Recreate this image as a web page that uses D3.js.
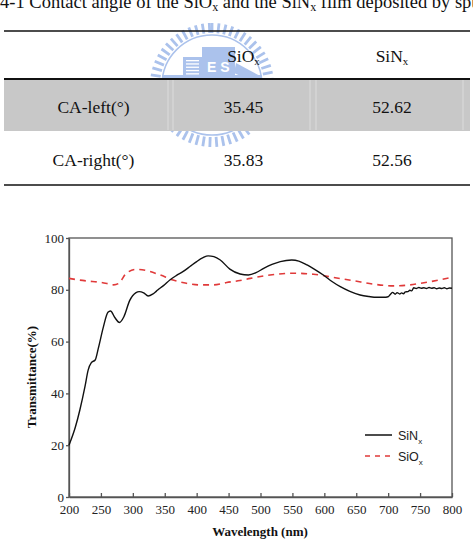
<!DOCTYPE html>
<html>
<head>
<meta charset="utf-8">
<script src="https://cdn.jsdelivr.net/npm/d3@7"></script>
<style>
  html, body { margin: 0; padding: 0; background: #fff; }
  svg { display: block; }
  .serif { font-family: "Liberation Serif", "Times New Roman", serif; }
  .sans { font-family: "Liberation Sans", Arial, sans-serif; }
</style>
</head>
<body>
<div id="chart"></div>
<script>
// table contents
const rowLabels = ["CA-left(°)", "CA-right(°)"];
const colLabels = [["SiO", "x"], ["SiN", "x"]];
const sioxAngles = [35.45, 35.83];
const sinxAngles = [52.62, 52.56];

// transmittance spectra
const sinxWl = [200, 210, 217, 225, 230, 235, 241, 246, 254, 261, 265, 272, 279, 286, 295, 305, 310, 317, 324, 331,
    337, 343, 348, 358, 368, 379, 390, 400, 410, 418, 427, 437, 452, 468, 481, 493, 505, 518, 531, 549,
    560, 573, 586, 599, 612, 625, 640, 656, 670, 682, 693, 700, 704, 707, 711, 714, 718, 721, 724, 727,
    731, 734, 737, 740, 744, 748, 752, 756, 760, 764, 768, 772, 776, 780, 784, 788, 792, 796, 800];
const sinxT = [20, 27, 33.6, 42.6, 49, 51.9, 52.9, 57.5, 65.8, 71.3, 71.8, 69.2, 67.4, 69.6, 75.8, 78.9, 79.3, 78.8, 77.6, 78.3,
    79.5, 80.7, 81.6, 83.8, 85.5, 87.1, 89.1, 90.9, 92.4, 93.1, 92.8, 91.5, 88, 86.1, 85.7, 86.6, 88.3, 89.8, 90.9, 91.5,
    91.1, 89.6, 87.7, 85.6, 83.2, 81.2, 79.4, 78, 77.4, 77.1, 77.1, 77.3, 78.4, 79, 78.3, 78.9, 78.4, 78.8, 78.5, 79.2,
    79.3, 79.8, 79.6, 80.8, 80.5, 80.9, 80.6, 80.8, 80.5, 80.9, 80.6, 80.8, 80.4, 80.7, 80.5, 80.8, 80.4, 80.7, 80.6];
const sioxWl = [200, 215, 228, 249, 262, 270, 278, 290, 306, 322, 343, 363, 384, 405, 426, 447, 468, 484, 515, 549,
    583, 614, 646, 677, 708, 734, 765, 800];
const sioxT = [84.4, 83.8, 83.4, 82.9, 82.3, 81.9, 82.5, 86.4, 87.9, 87.4, 85.7, 83.8, 82.5, 81.9, 81.9, 82.8, 83.6, 84.4, 85.7, 86.4,
    86.0, 84.8, 83.5, 82.2, 81.5, 81.9, 83.1, 84.8];
const xTicks = d3.range(200, 801, 50);
const yTicks = d3.range(0, 101, 20);

const W = 473, H = 547;
const svg = d3.select("#chart").append("svg").attr("width", W).attr("height", H);

// caption (cut at the edges like the scan)
const cap = svg.append("text").attr("class", "serif").attr("x", 0).attr("y", 7.5)
    .attr("font-size", 18.5).attr("fill", "#111");
cap.append("tspan").text("4-1 Contact angle of the SiO");
cap.append("tspan").attr("font-size", 12).attr("dy", 3).text("x");
cap.append("tspan").attr("dy", -3).text(" and the SiN");
cap.append("tspan").attr("font-size", 12).attr("dy", 3).text("x");
cap.append("tspan").attr("dy", -3).text(" film deposited by sputtering");

// watermark logo
const logo = svg.append("g").attr("transform", "translate(212,85)").attr("fill", "#abc2ec");
d3.range(0, 360, 6.5).forEach(a => {
    logo.append("rect").attr("x", -1.4).attr("y", -62).attr("width", 2.8).attr("height", 10)
        .attr("transform", `rotate(${a})`);
});
logo.append("circle").attr("r", 50).attr("fill", "none").attr("stroke", "#abc2ec").attr("stroke-width", 1.5);
logo.append("rect").attr("x", -29).attr("y", -28).attr("width", 19).attr("height", 18);
d3.range(5).forEach(i => {
    logo.append("rect").attr("x", -26).attr("y", -25 + i * 3.3).attr("width", 13).attr("height", 1.3).attr("fill", "#fff");
});
logo.append("rect").attr("x", -10).attr("y", -38).attr("width", 33).attr("height", 28);
logo.append("text").attr("class", "sans").attr("x", -5).attr("y", -13).attr("font-size", 14)
    .attr("fill", "#fff").attr("font-weight", "bold").text("E S");
logo.append("path").attr("d", "M24,-22 L50,-8 L44,-2 L22,-12 Z");
logo.append("rect").attr("x", -50).attr("y", -10).attr("width", 100).attr("height", 4);

// table
const colX = [93.5, 243.5, 392];
svg.append("rect").attr("x", 4).attr("y", 79).attr("width", 466).attr("height", 52).attr("fill", "#c8c8c8");
[168, 173, 310, 316, 463].forEach(xv => {
    svg.append("line").attr("x1", xv).attr("x2", xv).attr("y1", 80).attr("y2", 130)
        .attr("stroke", "#fff").attr("stroke-opacity", 0.25).attr("stroke-width", 1.5);
});
[[31, 1.6], [79, 2], [185, 1.6]].forEach(([yv, w]) => {
    svg.append("line").attr("x1", 4).attr("x2", 470).attr("y1", yv).attr("y2", yv)
        .attr("stroke", "#111").attr("stroke-width", w);
});
colLabels.forEach((c, i) => {
    const t = svg.append("text").attr("class", "serif").attr("x", colX[i + 1]).attr("y", 62)
        .attr("text-anchor", "middle").attr("font-size", 17.5).attr("fill", "#111");
    t.append("tspan").text(c[0]);
    t.append("tspan").attr("font-size", 11).attr("dy", 3).text(c[1]);
});
rowLabels.forEach((r, i) => {
    const yy = [113, 166][i];
    svg.append("text").attr("class", "serif").attr("x", colX[0]).attr("y", yy).attr("text-anchor", "middle")
        .attr("font-size", 17.5).attr("fill", "#111").text(r);
    svg.append("text").attr("class", "serif").attr("x", colX[1]).attr("y", yy).attr("text-anchor", "middle")
        .attr("font-size", 17.5).attr("fill", "#111").text(sioxAngles[i].toFixed(2));
    svg.append("text").attr("class", "serif").attr("x", colX[2]).attr("y", yy).attr("text-anchor", "middle")
        .attr("font-size", 17.5).attr("fill", "#111").text(sinxAngles[i].toFixed(2));
});

// chart
const x = d3.scaleLinear().domain([200, 800]).range([69, 452]);
const y = d3.scaleLinear().domain([0, 100]).range([497, 238]);
const axisColor = "#555";

const xAxis = svg.append("g").attr("transform", `translate(0,${y(0)})`)
    .call(d3.axisBottom(x).tickValues(xTicks).tickSizeInner(-4).tickSizeOuter(0).tickPadding(6));
const yAxis = svg.append("g").attr("transform", `translate(${x(200)},0)`)
    .call(d3.axisLeft(y).tickValues(yTicks).tickSizeInner(3).tickSizeOuter(0).tickPadding(2));
[xAxis, yAxis].forEach(g => {
    g.selectAll("path, line").attr("stroke", axisColor).attr("stroke-width", 1.3);
    g.selectAll("text").attr("class", "serif").attr("font-size", 13).attr("fill", "#222");
});
xAxis.selectAll("text").attr("dy", "0.85em");
svg.append("rect").attr("x", x(200)).attr("y", y(100)).attr("width", x(800) - x(200)).attr("height", y(0) - y(100))
    .attr("fill", "none").attr("stroke", axisColor).attr("stroke-width", 1.3);

const line = d3.line().x(d => x(d[0])).y(d => y(d[1])).curve(d3.curveMonotoneX);
svg.append("path").datum(d3.zip(sioxWl, sioxT)).attr("d", line).attr("fill", "none")
    .attr("stroke", "#e03a3a").attr("stroke-width", 1.6).attr("stroke-dasharray", "6,5");
svg.append("path").datum(d3.zip(sinxWl, sinxT)).attr("d", line).attr("fill", "none")
    .attr("stroke", "#111").attr("stroke-width", 1.4);

svg.append("text").attr("class", "serif").attr("x", 260).attr("y", 536).attr("text-anchor", "middle")
    .attr("font-size", 13).attr("font-weight", "bold").attr("fill", "#111").text("Wavelength (nm)");
svg.append("text").attr("class", "serif").attr("transform", "translate(36,377) rotate(-90)")
    .attr("text-anchor", "middle").attr("font-size", 13).attr("font-weight", "bold").attr("fill", "#111")
    .text("Transmittance(%)");

// legend
const legend = [["SiN", "#111", null, 435], ["SiO", "#e03a3a", "5,5", 456]];
legend.forEach(([name, col, dash, ly]) => {
    svg.append("line").attr("x1", 365).attr("x2", 392).attr("y1", ly).attr("y2", ly)
        .attr("stroke", col).attr("stroke-width", 1.5).attr("stroke-dasharray", dash);
    const t = svg.append("text").attr("class", "sans").attr("x", 398).attr("y", ly + 5)
        .attr("font-size", 12.5).attr("fill", "#222");
    t.append("tspan").text(name);
    t.append("tspan").attr("font-size", 8).attr("dy", 4).text("x");
});
</script>
</body>
</html>
